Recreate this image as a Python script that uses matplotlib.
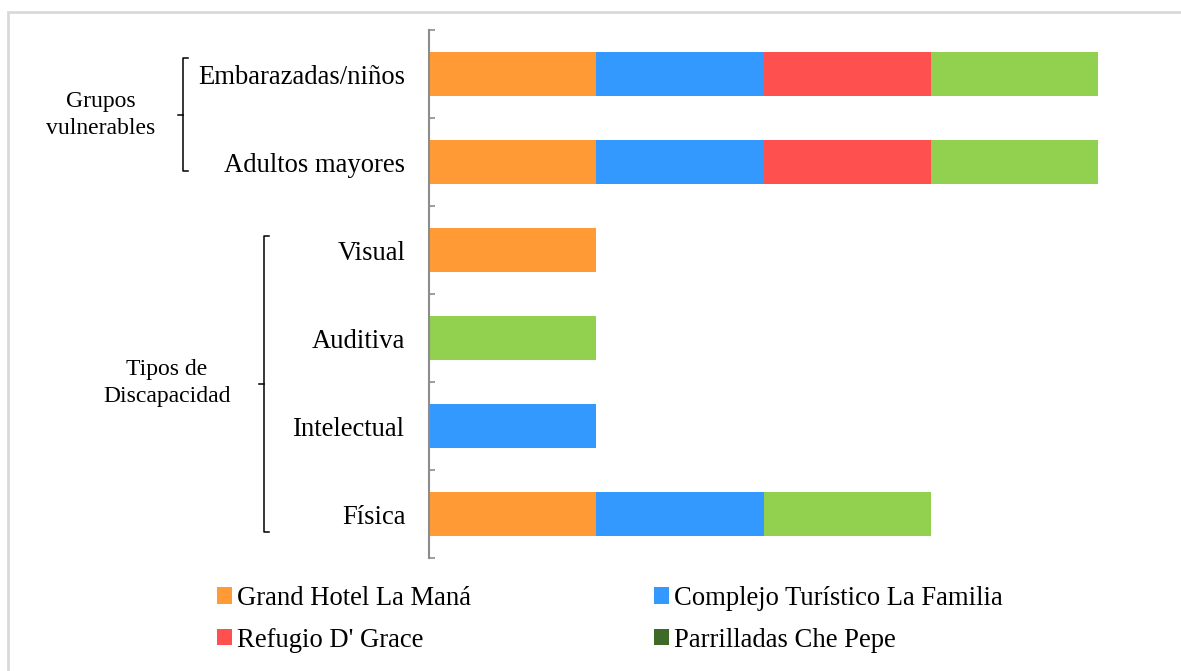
import numpy as np
import matplotlib
matplotlib.use("Agg")
import matplotlib.pyplot as plt
from matplotlib.patches import Patch, Rectangle
from matplotlib.lines import Line2D

plt.rcParams["font.family"] = ["Liberation Serif", "DejaVu Serif"]

# ── Data ─────────────────────────────────────────────────────────────────────
categories = ["Embarazadas/niños", "Adultos mayores", "Visual",
              "Auditiva", "Intelectual", "Física"]
series_names = ["Grand Hotel La Maná", "Complejo Turístico La Familia",
                "Refugio D' Grace", "Parrilladas Che Pepe"]
grand_hotel = [1, 1, 1, 0, 0, 1]
complejo    = [1, 1, 0, 0, 1, 1]
refugio     = [1, 1, 0, 0, 0, 0]
parrilladas = [1, 1, 0, 1, 0, 1]

bar_colors    = ["#FF9A35", "#3399FF", "#FF5050", "#92D050"]
legend_colors = ["#FF9A35", "#3399FF", "#FF5050", "#3E6A27"]

groups = [("Grupos\nvulnerables", 0, 1), ("Tipos de\nDiscapacidad", 2, 5)]

# ── Figure ───────────────────────────────────────────────────────────────────
W, H = 1181, 671
fig = plt.figure(figsize=(W / 100, H / 100), dpi=100)
ax = fig.add_axes([429 / W, 1 - 558 / H, (1165 - 429) / W, (558 - 30) / H])

y = np.arange(len(categories))
left = np.zeros(len(categories))
for vals, col in zip([grand_hotel, complejo, refugio, parrilladas], bar_colors):
    vals = np.array(vals, dtype=float)
    ax.barh(y, vals, left=left, height=0.5, color=col, edgecolor="none")
    left += vals

ax.set_xlim(0, 4.4)
ax.set_ylim(len(categories) - 0.5, -0.5)
ax.set_yticks(y)
ax.set_yticklabels(categories, fontsize=19.2)
ax.tick_params(axis="y", which="major", length=0, pad=17)
ax.set_yticks(np.arange(-0.5, len(categories)), minor=True)
ax.tick_params(axis="y", which="minor", direction="in", length=4.5,
               width=1.2, color="#8c8c8c")
ax.set_xticks([])
for s in ["top", "right", "bottom"]:
    ax.spines[s].set_visible(False)
ax.spines["left"].set_color("#8c8c8c")
ax.spines["left"].set_linewidth(1.5)

# ── Group brackets ───────────────────────────────────────────────────────────
def to_fig(px, py):
    return px / W, 1 - py / H

def bracket(x, y0, y1):
    xs, ys = zip(*[to_fig(x + 5, y0), to_fig(x, y0), to_fig(x, y1), to_fig(x + 5, y1)])
    fig.add_artist(Line2D(xs, ys, color="black", lw=1.1))
    ym = (y0 + y1) / 2
    xs, ys = zip(*[to_fig(x, ym), to_fig(x - 5, ym)])
    fig.add_artist(Line2D(xs, ys, color="black", lw=1.1))

bracket(183, 58, 171)
bracket(264, 236, 532)
fig.text(*to_fig(101, 115), groups[0][0], ha="center", va="center",
         fontsize=17, linespacing=1.4)
fig.text(*to_fig(167, 383), groups[1][0], ha="center", va="center",
         fontsize=17, linespacing=1.4)

# ── Legend ───────────────────────────────────────────────────────────────────
handles = [Patch(facecolor=c, edgecolor="none") for c in legend_colors]
order = [0, 2, 1, 3]
fig.legend([handles[i] for i in order], [series_names[i] for i in order],
           ncol=2, loc="upper left", bbox_to_anchor=to_fig(217, 586),
           frameon=False, fontsize=19.2, handlelength=0.56, handleheight=0.56,
           handletextpad=0.2, columnspacing=6.85, labelspacing=0.62,
           borderaxespad=0, borderpad=0)

# outer frame
fig.add_artist(Rectangle(to_fig(8, 700), (1200 - 8) / W, (700 - 12) / H,
                         transform=fig.transFigure, fill=False,
                         edgecolor="#d9d9d9", lw=2))

fig.savefig("out.png", dpi=100)
